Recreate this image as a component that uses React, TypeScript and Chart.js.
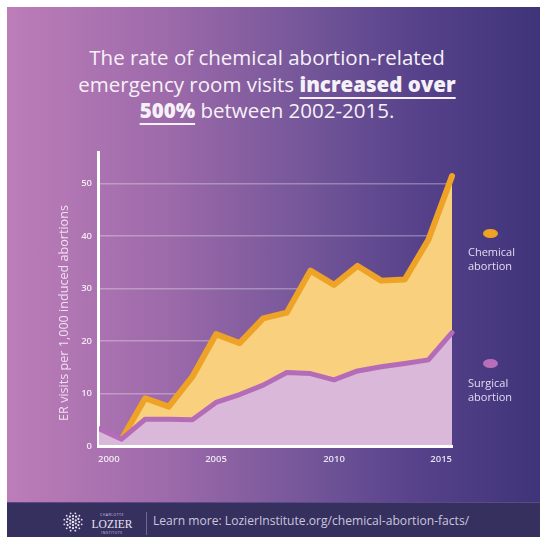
import React, { useEffect, useRef } from 'react';
import { Chart, registerables } from 'chart.js';

Chart.register(...registerables);

const years = ['2000', '2001', '2002', '2003', '2004', '2005', '2006', '2007', '2008', '2009', '2010', '2011', '2012', '2013', '2014', '2015'];
const chemical = [null, 1.3, 9.1, 7.5, 13.2, 21.3, 19.6, 24.3, 25.4, 33.4, 30.7, 34.3, 31.5, 31.7, 39.3, 51.4];
const surgical = [3.4, 1.3, 5.1, 5.1, 5.0, 8.3, 9.8, 11.6, 14.0, 13.8, 12.6, 14.3, 15.1, 15.7, 16.4, 21.6];
const yTicks = [0, 10, 20, 30, 40, 50];
const xTickYears = ['2000', '2005', '2010', '2015'];

const FONT = '"Open Sans", "DejaVu Sans", sans-serif';

function Logo() {
  const dots: React.ReactElement[] = [];
  const rings = [
    { r: 0, n: 1, s: 1.3 },
    { r: 3.2, n: 6, s: 1.1 },
    { r: 6.2, n: 12, s: 1.1 },
    { r: 9, n: 12, s: 0.9 },
  ];
  rings.forEach((ring, ri) => {
    for (let i = 0; i < ring.n; i++) {
      const a = (i / ring.n) * Math.PI * 2 + (ri % 2 ? Math.PI / ring.n : 0);
      dots.push(
        <circle key={ri + '-' + i} cx={10 + ring.r * Math.cos(a)} cy={10 + ring.r * Math.sin(a)} r={ring.s} fill="#e8e4f2" />
      );
    }
  });
  return (
    <svg width="20" height="20" viewBox="0 0 20 20" style={{ position: 'absolute', left: 56, top: 505 }}>
      {dots}
    </svg>
  );
}

export default function App() {
  const canvasRef = useRef<HTMLCanvasElement | null>(null);

  useEffect(() => {
    if (!canvasRef.current) return;
    const tickColor = 'rgba(255,255,255,0.85)';
    const chart = new Chart(canvasRef.current, {
      type: 'line',
      data: {
        labels: years,
        datasets: [
          {
            label: 'Surgical abortion',
            data: surgical,
            borderColor: '#b56cb8',
            backgroundColor: '#d9b8da',
            borderWidth: 5,
            fill: 'origin',
            pointRadius: 0,
            tension: 0,
            borderJoinStyle: 'round',
            borderCapStyle: 'round',
            clip: { left: -1, bottom: -1, top: 20, right: 10 },
          },
          {
            label: 'Chemical abortion',
            data: chemical,
            borderColor: '#efa326',
            backgroundColor: '#f8d07e',
            borderWidth: 6,
            fill: 'origin',
            pointRadius: 0,
            tension: 0,
            borderJoinStyle: 'round',
            borderCapStyle: 'round',
            clip: { left: -1, bottom: -1, top: 20, right: 10 },
          },
        ],
      },
      options: {
        responsive: false,
        animation: false,
        events: [],
        layout: { padding: { left: 71, right: 88, top: 145, bottom: 36 } },
        plugins: { legend: { display: false }, tooltip: { enabled: false } },
        scales: {
          x: {
            grid: { display: false, drawTicks: false },
            border: { display: true, color: '#ffffff', width: 3 },
            ticks: {
              autoSkip: false,
              maxRotation: 0,
              align: 'inner',
              padding: 8,
              color: tickColor,
              font: { family: FONT, size: 9.5, weight: 600 },
              callback: (_v: any, i: number) => (xTickYears.includes(years[i]) ? years[i] : ''),
            },
            afterFit: (s: any) => {
              s.height = 20;
            },
          },
          y: {
            min: 0,
            max: 56,
            grid: {
              drawTicks: false,
              lineWidth: 1.5,
              color: (ctx: any) => (ctx.tick && ctx.tick.value > 0 ? 'rgba(255,255,255,0.3)' : 'rgba(0,0,0,0)'),
            },
            border: { display: true, color: '#ffffff', width: 3 },
            ticks: {
              padding: 6,
              color: tickColor,
              font: { family: FONT, size: 9.5, weight: 600 },
            },
            afterBuildTicks: (s: any) => {
              s.ticks = yTicks.map((v) => ({ value: v }));
            },
            afterFit: (s: any) => {
              s.width = 20;
            },
          },
        },
      } as any,
    });
    return () => chart.destroy();
  }, []);

  const legendText: React.CSSProperties = {
    position: 'absolute',
    left: 461,
    fontSize: 11,
    lineHeight: '13.5px',
    color: '#e2dbf0',
    fontFamily: FONT,
  };

  const bold: React.CSSProperties = { fontWeight: 800, textDecoration: 'underline', textDecorationThickness: 2, textUnderlineOffset: 5 };

  return (
    <div
      style={{
        position: 'absolute',
        left: 7,
        top: 7,
        width: 533,
        height: 530,
        overflow: 'hidden',
        fontFamily: FONT,
        background: 'linear-gradient(90deg, #bd7db9 0%, #9d6aaa 30%, #76579a 55%, #55418a 78%, #3f3479 100%)',
      }}
    >
      <div
        style={{
          position: 'absolute',
          left: 0,
          top: 37,
          width: 520,
          textAlign: 'center',
          color: '#f6f1f8',
          fontSize: 20.5,
          lineHeight: '26.5px',
          fontWeight: 400,
        }}
      >
        The rate of chemical abortion-related
        <br />
        emergency room visits <span style={bold}>increased over</span>
        <br />
        <span style={bold}>500%</span> between 2002-2015.
      </div>

      <canvas ref={canvasRef} width={533} height={495} style={{ position: 'absolute', left: 0, top: 0, width: 533, height: 495 }} />

      <div
        style={{
          position: 'absolute',
          left: 56,
          top: 306,
          transform: 'translate(-50%, -50%) rotate(-90deg)',
          whiteSpace: 'nowrap',
          fontSize: 12.6,
          color: 'rgba(255,255,255,0.78)',
        }}
      >
        ER visits per 1,000 induced abortions
      </div>

      <div style={{ position: 'absolute', left: 475.5, top: 221.5, width: 15, height: 9, borderRadius: '50%', background: '#efa326' }} />
      <div style={{ ...legendText, top: 238 }}>
        Chemical
        <br />
        abortion
      </div>
      <div style={{ position: 'absolute', left: 475.5, top: 351.5, width: 15, height: 9, borderRadius: '50%', background: '#b86fba' }} />
      <div style={{ ...legendText, top: 369 }}>
        Surgical
        <br />
        abortion
      </div>

      <div style={{ position: 'absolute', left: 0, top: 495, width: 533, height: 35, background: '#36305f', borderTop: '1px solid #5a4a8a' }} />
      <Logo />
      <div style={{ position: 'absolute', left: 84, top: 506, width: 42, textAlign: 'center', fontSize: 3.5, lineHeight: '4px', color: '#cfc9e0', letterSpacing: 0.5 }}>
        CHARLOTTE
      </div>
      <div style={{ position: 'absolute', left: 84, top: 511, width: 42, textAlign: 'center', fontSize: 11.5, lineHeight: '12px', color: '#e8e4f2', fontFamily: '"Liberation Serif", serif' }}>
        LOZIER
      </div>
      <div style={{ position: 'absolute', left: 84, top: 524, width: 42, textAlign: 'center', fontSize: 3.5, lineHeight: '4px', color: '#cfc9e0', letterSpacing: 0.5 }}>
        INSTITUTE
      </div>
      <div style={{ position: 'absolute', left: 139, top: 505, width: 1, height: 23, background: '#6f6893' }} />
      <div style={{ position: 'absolute', left: 146, top: 506, fontSize: 12.1, lineHeight: '16px', color: '#cbc5de', whiteSpace: 'nowrap' }}>
        Learn more: LozierInstitute.org/chemical-abortion-facts/
      </div>
    </div>
  );
}
